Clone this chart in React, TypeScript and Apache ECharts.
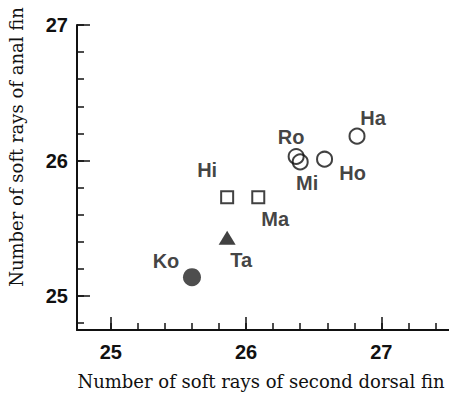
import { useEffect, useRef } from 'react';
import * as echarts from 'echarts';

// Localities and their mean fin-ray counts
const sites = ['Ko', 'Ta', 'Hi', 'Ma', 'Ro', 'Mi', 'Ho', 'Ha'];
const dorsalFinRays = [25.6, 25.86, 25.86, 26.09, 26.37, 26.4, 26.58, 26.82];
const analFinRays = [25.14, 25.43, 25.73, 25.73, 26.03, 25.99, 26.01, 26.18];
const siteGroups = ['dot', 'triangle', 'square', 'square', 'ring', 'ring', 'ring', 'ring'];

// Axis ticks
const xMajorTicks = [25, 26, 27];
const xMinorTicks = [25, 25.2, 25.4, 25.6, 25.8, 26, 26.2, 26.4, 26.6, 26.8, 27, 27.2, 27.4];
const yMajorTicks = [25, 26, 27];
const yMinorTicks = [24.8, 25, 25.2, 25.4, 25.6, 25.8, 26, 26.2, 26.4, 26.6, 26.8, 27];

const xTitle = 'Number of soft rays of second dorsal fin';
const yTitle = 'Number of soft rays of anal fin';

const SANS = '"Liberation Sans", Arial, Helvetica, sans-serif';
const SERIF = '"DejaVu Serif", "Liberation Serif", serif';
const INK = '#111';

const labelOffsets: Record<string, [number, number]> = {
  Ko: [-26, -16],
  Ta: [14, 22],
  Hi: [-20, -27],
  Ma: [17, 22],
  Ro: [-5, -19],
  Mi: [7, 21],
  Ho: [28, 14],
  Ha: [16, -18],
};

const groupStyles: Record<string, any> = {
  dot: { symbol: 'circle', symbolSize: 18, itemStyle: { color: '#222' } },
  triangle: { symbol: 'triangle', symbolSize: [17, 14], itemStyle: { color: INK } },
  square: {
    symbol: 'rect',
    symbolSize: 12,
    itemStyle: { color: 'rgba(255,255,255,0)', borderColor: INK, borderWidth: 2 },
  },
  ring: {
    symbol: 'circle',
    symbolSize: 15,
    itemStyle: { color: 'rgba(255,255,255,0)', borderColor: INK, borderWidth: 2 },
  },
};

export default function App() {
  const ref = useRef<HTMLDivElement>(null);

  useEffect(() => {
    if (!ref.current) return;
    const chart = echarts.init(ref.current, null, { renderer: 'svg' });

    const groupNames = ['dot', 'triangle', 'square', 'ring'];
    const series = groupNames.map((g) => ({
      type: 'scatter',
      name: g,
      xAxisIndex: 0,
      yAxisIndex: 0,
      ...groupStyles[g],
      data: sites
        .map((s, i) => ({ s, i }))
        .filter(({ i }) => siteGroups[i] === g)
        .map(({ s, i }) => ({
          name: s,
          value: [dorsalFinRays[i], analFinRays[i]],
          label: { offset: labelOffsets[s] },
        })),
      label: {
        show: true,
        position: 'inside',
        formatter: (p: any) => p.name,
        fontFamily: SANS,
        fontSize: 20,
        fontWeight: 'bold',
        color: INK,
        textBorderWidth: 0,
        align: 'center',
        verticalAlign: 'middle',
      },
      emphasis: { disabled: true },
      z: 5,
    }));

    const axisLineStyle = { color: INK, width: 2 };
    const tickLineStyle = { color: INK, width: 1.5 };
    const tickLabelStyle = { fontFamily: SANS, fontSize: 20, fontWeight: 'bold', color: INK };

    chart.setOption({
      animation: false,
      backgroundColor: '#fff',
      grid: { left: 77, top: 25, right: -2, bottom: 63, containLabel: false },
      xAxis: [
        {
          type: 'value',
          min: 24.75,
          max: 27.5,
          position: 'bottom',
          axisLine: { show: true, onZero: false, lineStyle: axisLineStyle },
          axisTick: { show: true, inside: true, length: 7, customValues: xMinorTicks, lineStyle: tickLineStyle },
          axisLabel: {
            customValues: xMajorTicks,
            margin: 12,
            ...tickLabelStyle,
            formatter: (v: number) => String(v),
          },
          splitLine: { show: false },
        },
        {
          type: 'value',
          min: 24.75,
          max: 27.5,
          position: 'bottom',
          axisLine: { show: false, onZero: false },
          axisTick: { show: true, inside: true, length: 13, customValues: xMajorTicks, lineStyle: tickLineStyle },
          axisLabel: { show: false },
          splitLine: { show: false },
        },
      ],
      yAxis: [
        {
          type: 'value',
          min: 24.75,
          max: 27,
          position: 'left',
          axisLine: { show: true, onZero: false, lineStyle: axisLineStyle },
          axisTick: { show: true, inside: true, length: 7, customValues: yMinorTicks, lineStyle: tickLineStyle },
          axisLabel: {
            customValues: yMajorTicks,
            margin: 9,
            ...tickLabelStyle,
            formatter: (v: number) => String(v),
          },
          splitLine: { show: false },
        },
        {
          type: 'value',
          min: 24.75,
          max: 27,
          position: 'left',
          axisLine: { show: false, onZero: false },
          axisTick: { show: true, inside: true, length: 13, customValues: yMajorTicks, lineStyle: tickLineStyle },
          axisLabel: { show: false },
          splitLine: { show: false },
        },
      ],
      graphic: [
        {
          type: 'text',
          x: 261,
          y: 381,
          style: {
            text: xTitle,
            fontFamily: SERIF,
            fontSize: 18,
            fill: INK,
            align: 'center',
            verticalAlign: 'middle',
          },
        },
        {
          type: 'text',
          x: 16,
          y: 147,
          rotation: Math.PI / 2,
          style: {
            text: yTitle,
            fontFamily: SERIF,
            fontSize: 18,
            fill: INK,
            align: 'center',
            verticalAlign: 'middle',
          },
        },
      ],
      series,
    });

    return () => chart.dispose();
  }, []);

  return (
    <div
      ref={ref}
      style={{ position: 'fixed', left: 0, top: 0, width: 449, height: 393, background: '#fff' }}
    />
  );
}
